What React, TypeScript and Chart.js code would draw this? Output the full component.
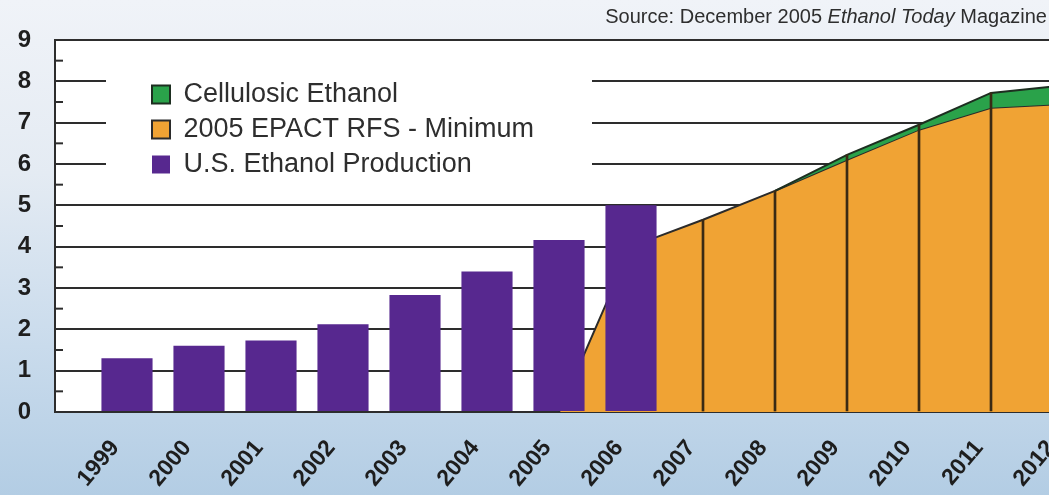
import React, { useEffect, useRef } from 'react';
import { Chart, registerables } from 'chart.js';

Chart.register(...registerables);

const YEARS = ['1999', '2000', '2001', '2002', '2003', '2004', '2005', '2006', '2007', '2008', '2009', '2010', '2011', '2012'];
const US_PRODUCTION = [1.3, 1.6, 1.73, 2.12, 2.83, 3.4, 4.16, 5.0, null, null, null, null, null, null];
const EPACT_RFS_MIN = [null, null, null, null, null, null, 0, 4.0, 4.65, 5.35, 6.1, 6.83, 7.36, 7.45];
const CELLULOSIC = [null, null, null, null, null, null, null, null, null, 0, 0.12, 0.12, 0.36, 0.45];
const DIVIDER_YEARS = ['2007', '2008', '2009', '2010', '2011'];
const Y_TICKS = [0, 1, 2, 3, 4, 5, 6, 7, 8, 9];
const MINOR_TICKS = [0.5, 1.5, 2.5, 3.5, 4.5, 5.5, 6.5, 7.5, 8.5];
const SERIES_NAMES = ['Cellulosic Ethanol', '2005 EPACT RFS - Minimum', 'U.S. Ethanol Production'];

const FONT = '"Liberation Sans", Arial, Helvetica, sans-serif';

export default function App() {
  const ref = useRef<HTMLCanvasElement>(null);

  useEffect(() => {
    const canvas = ref.current!;
    const labels = ['', ...YEARS];
    const pad = (a: (number | null)[]) => [null, ...a];
    const cellTotal = EPACT_RFS_MIN.map((v, i) =>
      CELLULOSIC[i] == null || v == null ? null : v + (CELLULOSIC[i] as number)
    );
    const dividers = YEARS.map((y, i) =>
      DIVIDER_YEARS.includes(y) ? (cellTotal[i] ?? EPACT_RFS_MIN[i]) : null
    );

    const plotBg = {
      id: 'plotBg',
      beforeDraw(chart: any) {
        const { ctx, chartArea: a } = chart;
        ctx.save();
        ctx.fillStyle = '#ffffff';
        ctx.fillRect(a.left, a.top, a.right - a.left, a.bottom - a.top);
        ctx.restore();
      },
    };

    const minorTicks = {
      id: 'minorTicks',
      beforeDatasetsDraw(chart: any) {
        const { ctx, chartArea: a } = chart;
        const ys = chart.scales.y;
        ctx.save();
        ctx.strokeStyle = '#2d2d2d';
        ctx.lineWidth = 2;
        MINOR_TICKS.forEach((v) => {
          const py = ys.getPixelForValue(v);
          ctx.beginPath();
          ctx.moveTo(a.left, py);
          ctx.lineTo(a.left + 8, py);
          ctx.stroke();
        });
        ctx.restore();
      },
    };

    const legendPlace = {
      id: 'legendPlace',
      afterLayout(chart: any) {
        const lg = chart.legend;
        if (!lg) return;
        const a = chart.chartArea;
        lg.left = a.left + 89;
        lg.top = a.top + 33;
        lg.right = lg.left + 440;
        lg.bottom = lg.top + 120;
        if (!lg.__patched) {
          const orig = lg.draw;
          lg.draw = function (...args: any[]) {
            const ca = chart.chartArea;
            const c = chart.ctx;
            c.save();
            c.fillStyle = '#ffffff';
            c.fillRect(ca.left + 51, ca.top + 24, 486, 118);
            c.restore();
            return orig.apply(this, args);
          };
          lg.__patched = true;
        }
      },
    };

    const chart = new Chart(canvas, {
      type: 'bar',
      data: {
        labels,
        datasets: [
          {
            type: 'line',
            label: SERIES_NAMES[0],
            data: pad(cellTotal),
            backgroundColor: '#2aa24a',
            borderColor: '#1d2e20',
            borderWidth: 2,
            pointRadius: 0,
            tension: 0,
            fill: 1,
            order: 2,
          } as any,
          {
            type: 'line',
            label: SERIES_NAMES[1],
            data: pad(EPACT_RFS_MIN),
            backgroundColor: '#f0a334',
            borderColor: '#2b2b2b',
            borderWidth: 2,
            pointRadius: 0,
            tension: 0,
            fill: 'origin',
            order: 3,
          } as any,
          {
            type: 'bar',
            label: SERIES_NAMES[2],
            data: pad(US_PRODUCTION),
            backgroundColor: '#57288f',
            borderWidth: 0,
            grouped: false,
            categoryPercentage: 1,
            barPercentage: 0.71,
            order: 0,
          } as any,
          {
            type: 'bar',
            label: 'dividers',
            data: pad(dividers),
            backgroundColor: '#3a2a14',
            borderWidth: 0,
            grouped: false,
            barThickness: 2,
            order: 1,
          } as any,
        ],
      },
      options: {
        responsive: false,
        animation: false,
        layout: { padding: { top: 40, left: 0, right: 0, bottom: 0 } },
        plugins: {
          tooltip: { enabled: false },
          legend: {
            display: true,
            position: 'chartArea',
            align: 'start',
            labels: {
              boxWidth: 18,
              boxHeight: 18,
              padding: 8,
              color: '#2e2e2e',
              font: { family: FONT, size: 27 },
              filter: (item: any) => item.datasetIndex < 3,
              sort: (a: any, b: any) => a.datasetIndex - b.datasetIndex,
            },
          } as any,
        },
        scales: {
          x: {
            type: 'category',
            offset: false,
            grid: { display: false },
            border: { display: true, color: '#2d2d2d', width: 2 },
            ticks: {
              autoSkip: false,
              minRotation: 50,
              maxRotation: 50,
              padding: 15,
              labelOffset: -12,
              color: '#1e1e1e',
              font: { family: FONT, size: 23, weight: 'bold' },
            },
            afterFit: (s: any) => {
              s.height = 83;
              s.paddingLeft = 0;
              s.paddingRight = 0;
            },
          },
          y: {
            min: 0,
            max: 9,
            grid: { color: '#2d2d2d', lineWidth: 2, drawTicks: false },
            border: { display: true, color: '#2d2d2d', width: 2 },
            ticks: {
              padding: 24,
              color: '#1e1e1e',
              font: { family: FONT, size: 24, weight: 'bold' },
            },
            afterBuildTicks: (s: any) => {
              s.ticks = Y_TICKS.map((v) => ({ value: v }));
            },
            afterFit: (s: any) => {
              s.width = 55;
              s.paddingTop = 0;
              s.paddingBottom = 0;
            },
          },
        },
      } as any,
      plugins: [plotBg, minorTicks, legendPlace],
    });
    return () => chart.destroy();
  }, []);

  return (
    <div
      style={{
        position: 'fixed',
        left: 0,
        top: 0,
        width: 1049,
        height: 495,
        overflow: 'hidden',
        background: 'linear-gradient(to bottom, #f0f3f8 0%, #e4ebf3 35%, #c9dbec 70%, #b3cde4 100%)',
      }}
    >
      <canvas ref={ref} width={1063} height={495} style={{ position: 'absolute', left: 0, top: 0 }} />
      <div
        style={{
          position: 'absolute',
          right: 2,
          top: 5,
          font: `20px ${FONT}`,
          color: '#2e2e2e',
          whiteSpace: 'nowrap',
        }}
      >
        Source: December 2005 <i>Ethanol Today</i> Magazine
      </div>
    </div>
  );
}
